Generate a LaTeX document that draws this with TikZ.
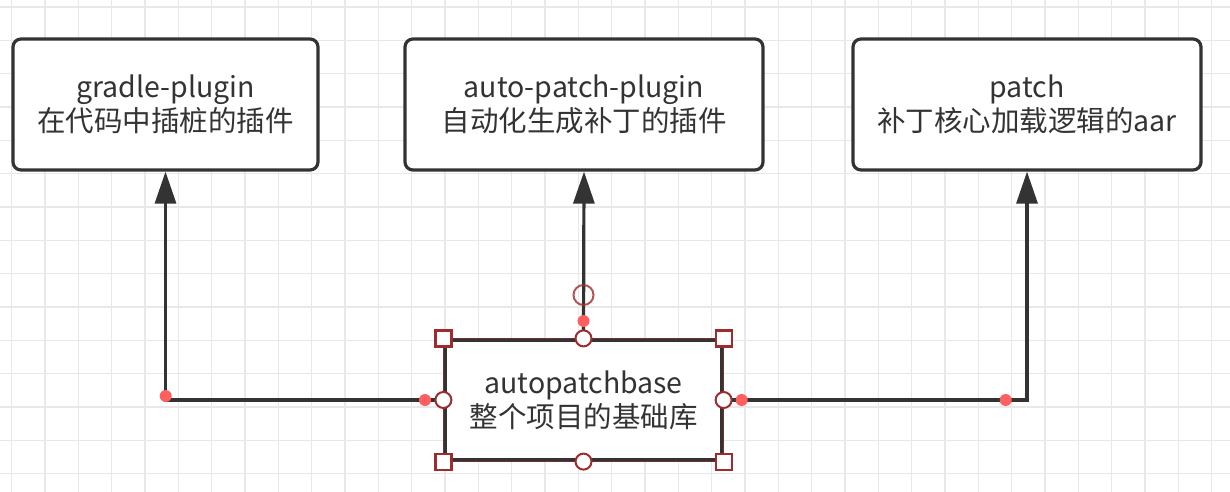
\documentclass[tikz,border=0pt]{standalone}
\usepackage{fontspec}
\setmainfont{Noto Sans CJK SC}
\usetikzlibrary{arrows.meta}
\definecolor{ink}{HTML}{333333}
\definecolor{gridc}{HTML}{E8E8E8}
\definecolor{selred}{HTML}{9E2C2C}
\definecolor{dotred}{HTML}{FF5F5F}
\tikzset{
  box/.style={draw=ink, line width=3.2pt, rounded corners=8pt, fill=white,
    align=center, text=ink, font=\fontsize{28.5}{34}\selectfont, inner sep=0pt},
  conn/.style={draw=ink, line width=3.2pt, -{Triangle[length=32pt,width=21pt]}},
  sqhandle/.style={draw=selred, line width=2.2pt, fill=white},
  cirhandle/.style={draw=selred, line width=2pt, fill=white},
  reddot/.style={fill=dotred},
}
\begin{document}
\begin{tikzpicture}[x=1pt,y=-1pt]
\useasboundingbox (0,0) rectangle (1230,492);
\fill[white] (0,0) rectangle (1230,492);
% grid
\foreach \i in {0,...,36} {
  \draw[gridc, line width=1.3pt] ({11.67+33.33*\i},0) -- ({11.67+33.33*\i},492);
}
\foreach \j in {0,...,14} {
  \draw[gridc, line width=1.3pt] (0,{7+33.33*\j}) -- (1230,{7+33.33*\j});
}
% boxes
\node[box, minimum width=305pt, minimum height=131pt] (b1) at (165.5,104.5)
  {gradle-plugin\\在代码中插桩的插件};
\node[box, minimum width=358pt, minimum height=131pt] (b2) at (584,104.5)
  {auto-patch-plugin\\自动化生成补丁的插件};
\node[box, minimum width=348pt, minimum height=131pt] (b3) at (1027,104.5)
  {patch\\补丁核心加载逻辑的aar};
\node[box, rounded corners=0pt, minimum width=277pt, minimum height=120pt] (base) at (583.5,400)
  {autopatchbase\\整个项目的基础库};
% connectors
\draw[conn] (base.west) -| (b1.south);
\draw[conn] (base.north) -- (b2.south);
\draw[conn] (base.east) -| (b3.south);
% selection outline
\draw[selred!60!ink, line width=1.4pt] (base.north west) rectangle (base.south east);
% handles
\foreach \a in {north west, north east, south west, south east} {
  \draw[sqhandle] ([xshift=-8pt,yshift=-8pt]base.\a) rectangle ([xshift=8pt,yshift=8pt]base.\a);
}
\foreach \a in {north, south, west, east} {
  \draw[cirhandle] (base.\a) circle[radius=8pt];
}
% connection points
\coordinate (p1) at (165.7,396);
\coordinate (p2) at (425,400);
\coordinate (p3) at (741.7,400);
\coordinate (p4) at (1005.7,400);
\coordinate (p5) at (583.5,321);
\coordinate (p6) at (583.5,295);
\foreach \p in {p1,p2,p3,p4,p5} {
  \fill[reddot] (\p) circle[radius=6pt];
}
\draw[selred, opacity=0.8, line width=2pt] (p6) circle[radius=10pt];
\end{tikzpicture}
\end{document}
